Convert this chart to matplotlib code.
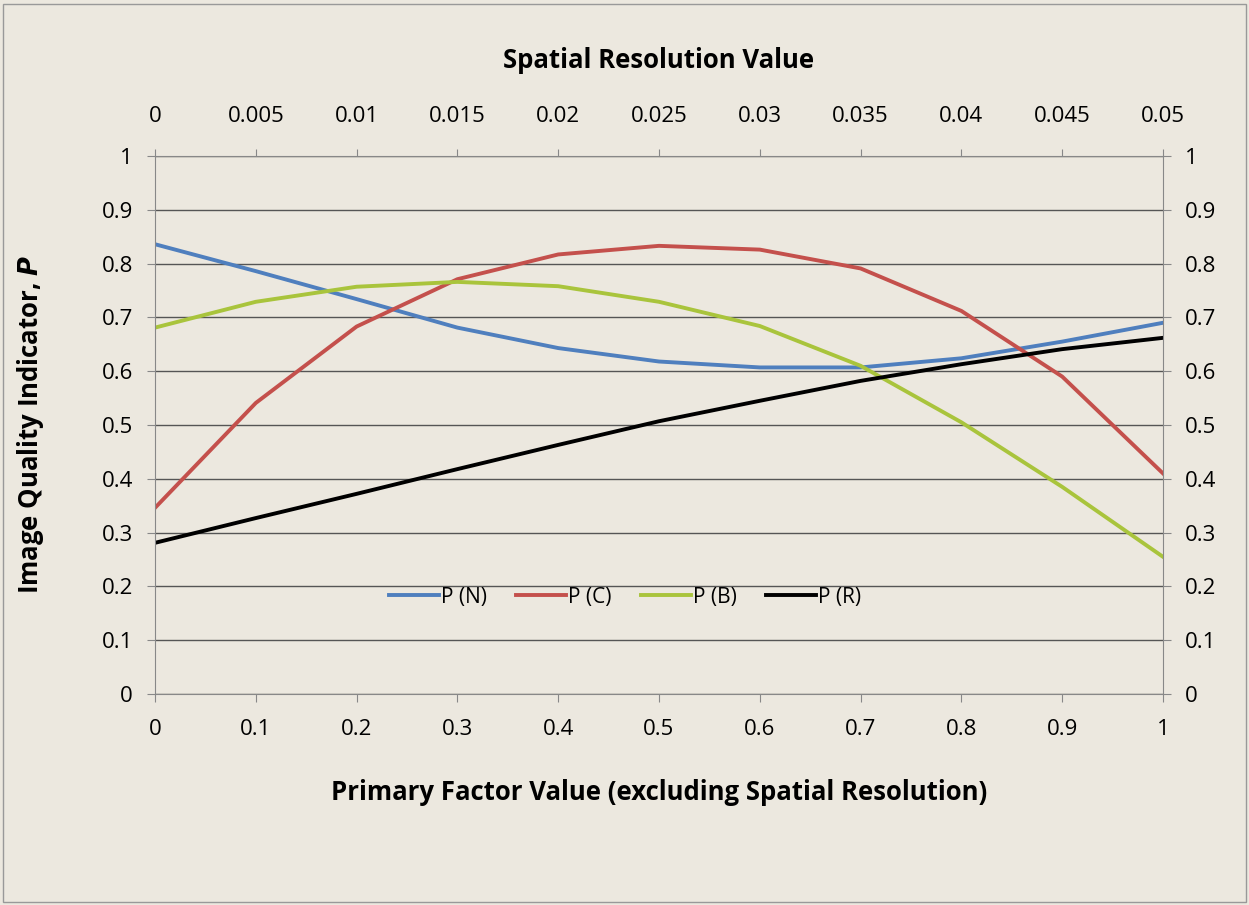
import matplotlib.pyplot as plt
from matplotlib.patches import Rectangle
import numpy as np

plt.rcParams['font.family'] = ['Open Sans', 'DejaVu Sans']

# data
x = [0, 0.1, 0.2, 0.3, 0.4, 0.5, 0.6, 0.7, 0.8, 0.9, 1.0]
p_n = [0.836, 0.786, 0.734, 0.681, 0.643, 0.618, 0.607, 0.607, 0.624, 0.655, 0.690]
p_c = [0.346, 0.541, 0.683, 0.771, 0.817, 0.833, 0.826, 0.791, 0.712, 0.590, 0.410]
p_b = [0.681, 0.729, 0.757, 0.766, 0.758, 0.729, 0.684, 0.610, 0.505, 0.385, 0.255]
p_r = [0.281, 0.327, 0.372, 0.418, 0.463, 0.507, 0.545, 0.582, 0.613, 0.641, 0.662]
top_ticks = ['0', '0.005', '0.01', '0.015', '0.02', '0.025', '0.03', '0.035', '0.04', '0.045', '0.05']

bg = '#ECE8DF'
fig = plt.figure(figsize=(12.49, 9.05), dpi=100, facecolor=bg)
fig.patches.append(Rectangle((3/1249, 3/905), 1243/1249, 898/905, transform=fig.transFigure,
                             fill=False, edgecolor='#999999', lw=1.0))
ax = fig.add_axes([155/1249, 1-694/905, 1008/1249, 538/905], facecolor=bg)

ax.plot(x, p_n, color='#4F7FBE', lw=2.8, label='P (N)')
ax.plot(x, p_c, color='#C4504C', lw=2.8, label='P (C)')
ax.plot(x, p_b, color='#A9C43C', lw=2.8, label='P (B)')
ax.plot(x, p_r, color='#000000', lw=2.8, label='P (R)')

ax.set_xlim(0, 1)
ax.set_ylim(0, 1)
yt = np.round(np.arange(0, 1.01, 0.1), 1)
ax.set_yticks(yt)
ax.set_yticklabels(['0' if v == 0 else ('1' if v == 1 else '%g' % v) for v in yt])
ax.set_xticks(yt)
ax.set_xticklabels(['0' if v == 0 else ('1' if v == 1 else '%g' % v) for v in yt])
ax.grid(axis='y', color='#555555', lw=1.0)
ax.set_axisbelow(True)
for s in ax.spines.values():
    s.set_color('#888888')
ax.tick_params(direction='out', length=6, color='#888888', labelsize=16)
ax.tick_params(axis='x', pad=12)
ax.tick_params(axis='y', right=True, labelright=True, pad=10)

ax.set_xlabel('Primary Factor Value (excluding Spatial Resolution)', fontsize=18.5,
              fontweight='bold', labelpad=28)
ax.set_ylabel('Image Quality Indicator, $\\boldsymbol{P}$', fontsize=18.5,
              fontweight='bold', labelpad=40)

top = ax.twiny()
top.set_xlim(0, 1)
top.set_xticks(x)
top.set_xticklabels(top_ticks)
top.tick_params(direction='out', length=5, color='#888888', labelsize=16, pad=16)
for s in top.spines.values():
    s.set_visible(False)
top.set_xlabel('Spatial Resolution Value', fontsize=18.5, fontweight='bold', labelpad=27)

ax.legend(loc='center', bbox_to_anchor=(0.466, 0.18), ncol=4, frameon=False,
          fontsize=15, handlelength=2.4, handletextpad=0.1, columnspacing=1.4)

fig.savefig('out.png', dpi=100, facecolor=bg)
